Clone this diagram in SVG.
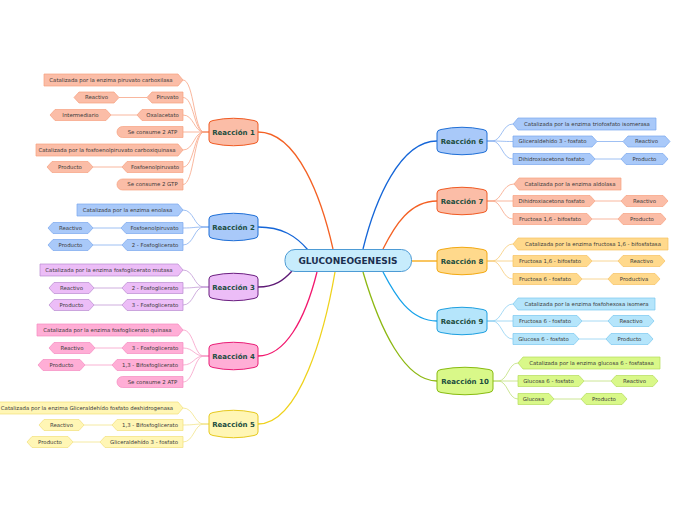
<svg xmlns="http://www.w3.org/2000/svg" xmlns:xlink="http://www.w3.org/1999/xlink" width="696" height="520" viewBox="0 0 696 520">
<style>
.t{font-family:"DejaVu Sans",Verdana,sans-serif;font-size:5.4px;fill:#3a3a3a;text-anchor:middle}
.rt{font-family:"DejaVu Sans",Verdana,sans-serif;font-size:7px;font-weight:bold;fill:#1b4d3e;text-anchor:middle}
.ct{font-family:"DejaVu Sans",Verdana,sans-serif;font-size:9px;font-weight:bold;fill:#1b2f4f;text-anchor:middle}
.ml{fill:none;stroke-width:1.3}
.ll{fill:none;stroke-width:0.8}
.sa{fill:#fbbda7;stroke:#f6a080;stroke-width:0.7}
.bl{fill:#a9c9f9;stroke:#78a6ee;stroke-width:0.7}
.pu{fill:#ecbdf7;stroke:#b98bd0;stroke-width:0.7}
.pk{fill:#ffaed6;stroke:#f58ac0;stroke-width:0.7}
.ye{fill:#fff6b5;stroke:#f2e07a;stroke-width:0.7}
.or{fill:#ffd98c;stroke:#f7c160;stroke-width:0.7}
.lb{fill:#b5e5fb;stroke:#79c7ef;stroke-width:0.7}
.gr{fill:#d9f889;stroke:#b4dc5a;stroke-width:0.7}
</style>
<defs>
<path id="n49" d="M0,-8 Q0,-11 4,-11.5 Q24.5,-16 45,-11.5 Q49,-11 49,-8 V8 Q49,11 45,11.5 Q24.5,16 4,11.5 Q0,11 0,8 Z"/>
<path id="n50" d="M0,-8 Q0,-11 4,-11.5 Q25,-16 46,-11.5 Q50,-11 50,-8 V8 Q50,11 46,11.5 Q25,16 4,11.5 Q0,11 0,8 Z"/>
<path id="n56" d="M0,-8 Q0,-11 4,-11.5 Q28,-16 52,-11.5 Q56,-11 56,-8 V8 Q56,11 52,11.5 Q28,16 4,11.5 Q0,11 0,8 Z"/>
</defs>
<rect width="696" height="520" fill="#ffffff"/>
<g id="connectors">
<path class="ml" stroke="#f46124" d="M258,132 C298,132 322,200 333,249"/>
<path class="ml" stroke="#1566d8" d="M258,227 C282,227 296,236 308,250"/>
<path class="ml" stroke="#5e1a75" d="M258,287 C275,287 284,280 292,271"/>
<path class="ml" stroke="#f2186e" d="M258,356 C285,356 305,320 317,272"/>
<path class="ml" stroke="#efd21c" d="M258,424 C300,424 325,330 335,272"/>
<path class="ml" stroke="#1566d8" d="M437,141 C400,141 375,200 363,249"/>
<path class="ml" stroke="#f46124" d="M437,201 C410,201 395,225 383,249"/>
<path class="ml" stroke="#f6a60a" d="M411,261 L437,261"/>
<path class="ml" stroke="#16a2ea" d="M437,321 C410,321 395,295 383,272"/>
<path class="ml" stroke="#8db812" d="M437,381 C405,381 380,330 363,272"/>
<g stroke="#f8a585">
<path class="ll" d="M209,132 L204,132 C194,132 194,80 183,80"/>
<path class="ll" d="M209,132 L204,132 C194,132 194,97.5 183,97.5"/>
<path class="ll" d="M209,132 L204,132 C194,132 194,115 183,115"/>
<path class="ll" d="M209,132 L183,132"/>
<path class="ll" d="M209,132 L204,132 C194,132 194,150 183,150"/>
<path class="ll" d="M209,132 L204,132 C194,132 194,167 183,167"/>
<path class="ll" d="M209,132 L204,132 C194,132 194,184.5 183,184.5"/>
<path class="ll" d="M147,97.5 L119,97.5 M137,115 L111,115 M122,167 L93,167"/>
</g>
<g stroke="#86b0f0">
<path class="ll" d="M209,227 L204,227 C194,227 194,210 183,210"/>
<path class="ll" d="M209,227 L204,227 C194,227 194,228 183,228"/>
<path class="ll" d="M209,227 L204,227 C194,227 194,245 183,245"/>
<path class="ll" d="M121,228 L93,228 M122,245 L93,245"/>
</g>
<g stroke="#c39ad6">
<path class="ll" d="M209,287 L204,287 C194,287 194,270 183,270"/>
<path class="ll" d="M209,287 L204,287 C194,287 194,288 183,288"/>
<path class="ll" d="M209,287 L204,287 C194,287 194,305 183,305"/>
<path class="ll" d="M122,288 L94,288 M122,305 L94,305"/>
</g>
<g stroke="#f7a0c8">
<path class="ll" d="M209,356 L204,356 C194,356 194,330 183,330"/>
<path class="ll" d="M209,356 L204,356 C194,356 194,348 183,348"/>
<path class="ll" d="M209,356 L204,356 C194,356 194,365 183,365"/>
<path class="ll" d="M209,356 L204,356 C194,356 194,382 183,382"/>
<path class="ll" d="M122,348 L95,348 M112,365 L85,365"/>
</g>
<g stroke="#f3e48a">
<path class="ll" d="M209,424 L204,424 C194,424 194,408 183,408"/>
<path class="ll" d="M209,424 L204,424 C194,424 194,425 183,425"/>
<path class="ll" d="M209,424 L204,424 C194,424 194,442 183,442"/>
<path class="ll" d="M112,425 L84,425 M100,442 L73,442"/>
</g>
<g stroke="#86b0f0">
<path class="ll" d="M487,141 L492,141 C502,141 502,124 513,124"/>
<path class="ll" d="M487,141 L492,141 C502,141 502,141.5 513,141.5"/>
<path class="ll" d="M487,141 L492,141 C502,141 502,159 513,159"/>
<path class="ll" d="M597,141.5 L623,141.5 M595,159 L621,159"/>
</g>
<g stroke="#f8a585">
<path class="ll" d="M487,201 L492,201 C502,201 502,184 514,184"/>
<path class="ll" d="M487,201 L513,201"/>
<path class="ll" d="M487,201 L492,201 C502,201 502,219 513,219"/>
<path class="ll" d="M595,201 L621,201 M592,219 L618,219"/>
</g>
<g stroke="#f8cb78">
<path class="ll" d="M487,261 L492,261 C502,261 502,244 513,244"/>
<path class="ll" d="M487,261 L513,261"/>
<path class="ll" d="M487,261 L492,261 C502,261 502,279 513,279"/>
<path class="ll" d="M592,261 L618,261 M582,279 L608,279"/>
</g>
<g stroke="#8fd0f2">
<path class="ll" d="M487,321 L492,321 C502,321 502,304 513,304"/>
<path class="ll" d="M487,321 L513,321"/>
<path class="ll" d="M487,321 L492,321 C502,321 502,339 513,339"/>
<path class="ll" d="M582,321 L608,321 M579,339 L606,339"/>
</g>
<g stroke="#bfe07a">
<path class="ll" d="M493,381 L498,381 C508,381 508,363 518,363"/>
<path class="ll" d="M493,381 L518,381"/>
<path class="ll" d="M493,381 L498,381 C508,381 508,399 518,399"/>
<path class="ll" d="M584,381 L611,381 M554,399 L581,399"/>
</g>
</g>

<g id="central">
<rect x="285" y="249.5" width="126.5" height="22" rx="10" fill="#c7ecfc" stroke="#4d9bd5" stroke-width="1"/>
<text class="ct" x="348" y="264">GLUCONEOGENESIS</text>
</g>

<g id="r1">
<use href="#n49" xlink:href="#n49" transform="translate(209,132)" fill="#fbbda7" stroke="#f05a22" stroke-width="1"/>
<text class="rt" x="233.5" y="134.5">Reacción 1</text>
<polygon class="sa" points="44,74 178,74 183,80 178,86 44,86"/><text class="t" x="111" y="81.9">Catalizada por la enzima piruvato carboxilasa</text>
<polygon class="sa" points="147,97.5 152,92 183,92 183,103 152,103"/><text class="t" x="167.5" y="99.4">Piruvato</text>
<polygon class="sa" points="74,97.5 79,92 114,92 119,97.5 114,103 79,103"/><text class="t" x="96.5" y="99.4">Reactivo</text>
<polygon class="sa" points="137,115 142,109.5 183,109.5 183,120.5 142,120.5"/><text class="t" x="162.5" y="116.9">Oxalacetato</text>
<polygon class="sa" points="50,115 55,109.5 106,109.5 111,115 106,120.5 55,120.5"/><text class="t" x="80.5" y="116.9">Intermediario</text>
<path class="sa" d="M183,126.5 H122.5 A5.5,5.5 0 0 0 122.5,137.5 H183 Z"/><text class="t" x="152.5" y="133.9">Se consume 2 ATP</text>
<polygon class="sa" points="36,144 178,144 183,150 178,156 36,156"/><text class="t" x="107" y="151.9">Catalizada por la fosfoenolpiruvato carboxiquinasa</text>
<polygon class="sa" points="122,167 127,161.5 183,161.5 183,172.5 127,172.5"/><text class="t" x="155" y="168.9">Fosfoenolpiruvato</text>
<polygon class="sa" points="47,167 52,161.5 88,161.5 93,167 88,172.5 52,172.5"/><text class="t" x="70" y="168.9">Producto</text>
<path class="sa" d="M183,179 H122.5 A5.5,5.5 0 0 0 122.5,190 H183 Z"/><text class="t" x="152.5" y="186.4">Se consume 2 GTP</text>
</g>

<g id="r2">
<use href="#n49" xlink:href="#n49" transform="translate(209,227)" fill="#a9c9f9" stroke="#1f6fd6" stroke-width="1"/>
<text class="rt" x="233.5" y="229.5">Reacción 2</text>
<polygon class="bl" points="77,204 178,204 183,210 178,216 77,216"/><text class="t" x="127.5" y="211.9">Catalizada por la enzima enolasa</text>
<polygon class="bl" points="121,228 126,222.5 183,222.5 183,233.5 126,233.5"/><text class="t" x="154.5" y="229.9">Fosfoenolpiruvato</text>
<polygon class="bl" points="48,228 53,222.5 88,222.5 93,228 88,233.5 53,233.5"/><text class="t" x="70.5" y="229.9">Reactivo</text>
<polygon class="bl" points="122,245 127,239.5 183,239.5 183,250.5 127,250.5"/><text class="t" x="155" y="246.9">2 - Fosfoglicerato</text>
<polygon class="bl" points="48,245 53,239.5 88,239.5 93,245 88,250.5 53,250.5"/><text class="t" x="70.5" y="246.9">Producto</text>
</g>

<g id="r3">
<use href="#n49" xlink:href="#n49" transform="translate(209,287)" fill="#ecbdf7" stroke="#6b1f80" stroke-width="1"/>
<text class="rt" x="233.5" y="289.5">Reacción 3</text>
<polygon class="pu" points="40,264 178,264 183,270 178,276 40,276"/><text class="t" x="109" y="271.9">Catalizada por la enzima fosfoglicerato mutasa</text>
<polygon class="pu" points="122,288 127,282.5 183,282.5 183,293.5 127,293.5"/><text class="t" x="155" y="289.9">2 - Fosfoglicerato</text>
<polygon class="pu" points="49,288 54,282.5 89,282.5 94,288 89,293.5 54,293.5"/><text class="t" x="71.5" y="289.9">Reactivo</text>
<polygon class="pu" points="122,305 127,299.5 183,299.5 183,310.5 127,310.5"/><text class="t" x="155" y="306.9">3 - Fosfoglicerato</text>
<polygon class="pu" points="49,305 54,299.5 89,299.5 94,305 89,310.5 54,310.5"/><text class="t" x="71.5" y="306.9">Producto</text>
</g>

<g id="r4">
<use href="#n49" xlink:href="#n49" transform="translate(209,356)" fill="#ffaed6" stroke="#e91e76" stroke-width="1"/>
<text class="rt" x="233.5" y="358.5">Reacción 4</text>
<polygon class="pk" points="37,324 178,324 183,330 178,336 37,336"/><text class="t" x="107.5" y="331.9">Catalizada por la enzima fosfoglicerato quinasa</text>
<polygon class="pk" points="122,348 127,342.5 183,342.5 183,353.5 127,353.5"/><text class="t" x="155" y="349.9">3 - Fosfoglicerato</text>
<polygon class="pk" points="49,348 54,342.5 90,342.5 95,348 90,353.5 54,353.5"/><text class="t" x="72" y="349.9">Reactivo</text>
<polygon class="pk" points="112,365 117,359.5 183,359.5 183,370.5 117,370.5"/><text class="t" x="150" y="366.9">1,3 - Bifosfoglicerato</text>
<polygon class="pk" points="38,365 43,359.5 80,359.5 85,365 80,370.5 43,370.5"/><text class="t" x="61.5" y="366.9">Producto</text>
<path class="pk" d="M183,376.5 H122.5 A5.5,5.5 0 0 0 122.5,387.5 H183 Z"/><text class="t" x="152.5" y="383.9">Se consume 2 ATP</text>
</g>

<g id="r5">
<use href="#n49" xlink:href="#n49" transform="translate(209,424)" fill="#fff6b5" stroke="#e6c91e" stroke-width="1"/>
<text class="rt" x="233.5" y="426.5">Reacción 5</text>
<polygon class="ye" points="-4,402 178,402 183,408 178,414 -4,414"/><text class="t" x="87" y="409.9">Catalizada por la enzima Gliceraldehído fosfato deshidrogenasa</text>
<polygon class="ye" points="112,425 117,419.5 183,419.5 183,430.5 117,430.5"/><text class="t" x="150" y="426.9">1,3 - Bifosfoglicerato</text>
<polygon class="ye" points="39,425 44,419.5 79,419.5 84,425 79,430.5 44,430.5"/><text class="t" x="61.5" y="426.9">Reactivo</text>
<polygon class="ye" points="100,442 105,436.5 183,436.5 183,447.5 105,447.5"/><text class="t" x="144" y="443.9">Gliceraldehído 3 - fosfato</text>
<polygon class="ye" points="27,442 32,436.5 68,436.5 73,442 68,447.5 32,447.5"/><text class="t" x="50" y="443.9">Producto</text>
</g>

<g id="r6">
<use href="#n50" xlink:href="#n50" transform="translate(437,141)" fill="#a9c9f9" stroke="#1f6fd6" stroke-width="1"/>
<text class="rt" x="462" y="143.5">Reacción 6</text>
<polygon class="bl" points="513,124 518,118 656,118 656,130 518,130"/><text class="t" x="587" y="125.9">Catalizada por la enzima triofosfato isomerasa</text>
<polygon class="bl" points="513,136 592,136 597,141.5 592,147 513,147"/><text class="t" x="552.5" y="143.4">Gliceraldehído 3 - fosfato</text>
<polygon class="bl" points="623,141.5 628,136 665,136 670,141.5 665,147 628,147"/><text class="t" x="646.5" y="143.4">Reactivo</text>
<polygon class="bl" points="513,153.5 590,153.5 595,159 590,164.5 513,164.5"/><text class="t" x="551.5" y="160.9">Dihidroxiacetona fosfato</text>
<polygon class="bl" points="621,159 626,153.5 663,153.5 668,159 663,164.5 626,164.5"/><text class="t" x="644.5" y="160.9">Producto</text>
</g>

<g id="r7">
<use href="#n50" xlink:href="#n50" transform="translate(437,201)" fill="#fbbda7" stroke="#f05a22" stroke-width="1"/>
<text class="rt" x="462" y="203.5">Reacción 7</text>
<polygon class="sa" points="514,184 519,178 621,178 621,190 519,190"/><text class="t" x="570" y="185.9">Catalizada por la enzima aldolasa</text>
<polygon class="sa" points="513,195.5 590,195.5 595,201 590,206.5 513,206.5"/><text class="t" x="551.5" y="202.9">Dihidroxiacetona fosfato</text>
<polygon class="sa" points="621,201 626,195.5 663,195.5 668,201 663,206.5 626,206.5"/><text class="t" x="644.5" y="202.9">Reactivo</text>
<polygon class="sa" points="513,213.5 587,213.5 592,219 587,224.5 513,224.5"/><text class="t" x="550" y="220.9">Fructosa 1,6 - bifosfato</text>
<polygon class="sa" points="618,219 623,213.5 661,213.5 666,219 661,224.5 623,224.5"/><text class="t" x="642" y="220.9">Producto</text>
</g>

<g id="r8">
<use href="#n50" xlink:href="#n50" transform="translate(437,261)" fill="#ffd98c" stroke="#f3a912" stroke-width="1"/>
<text class="rt" x="462" y="263.5">Reacción 8</text>
<polygon class="or" points="513,244 518,238 668,238 668,250 518,250"/><text class="t" x="593" y="245.9">Catalizada por la enzima fructosa 1,6 - bifosfatasa</text>
<polygon class="or" points="513,255.5 587,255.5 592,261 587,266.5 513,266.5"/><text class="t" x="550" y="262.9">Fructosa 1,6 - bifosfato</text>
<polygon class="or" points="618,261 623,255.5 660,255.5 665,261 660,266.5 623,266.5"/><text class="t" x="641.5" y="262.9">Reactivo</text>
<polygon class="or" points="513,273.5 577,273.5 582,279 577,284.5 513,284.5"/><text class="t" x="545" y="280.9">Fructosa 6 - fosfato</text>
<polygon class="or" points="608,279 613,273.5 655,273.5 660,279 655,284.5 613,284.5"/><text class="t" x="634" y="280.9">Productiva</text>
</g>

<g id="r9">
<use href="#n50" xlink:href="#n50" transform="translate(437,321)" fill="#b5e5fb" stroke="#1d9fe0" stroke-width="1"/>
<text class="rt" x="462" y="323.5">Reacción 9</text>
<polygon class="lb" points="513,304 518,298 655,298 655,310 518,310"/><text class="t" x="586.5" y="305.9">Catalizada por la enzima fosfohexosa isomera</text>
<polygon class="lb" points="513,315.5 577,315.5 582,321 577,326.5 513,326.5"/><text class="t" x="545" y="322.9">Fructosa 6 - fosfato</text>
<polygon class="lb" points="608,321 613,315.5 649,315.5 654,321 649,326.5 613,326.5"/><text class="t" x="631" y="322.9">Reactivo</text>
<polygon class="lb" points="513,333.5 574,333.5 579,339 574,344.5 513,344.5"/><text class="t" x="543.5" y="340.9">Glucosa 6 - fosfato</text>
<polygon class="lb" points="606,339 611,333.5 648,333.5 653,339 648,344.5 611,344.5"/><text class="t" x="629.5" y="340.9">Producto</text>
</g>

<g id="r10">
<use href="#n56" xlink:href="#n56" transform="translate(437,381)" fill="#d9f889" stroke="#88bb10" stroke-width="1"/>
<text class="rt" x="465" y="383.5">Reacción 10</text>
<polygon class="gr" points="518,363 523,357 660,357 660,369 523,369"/><text class="t" x="591.5" y="364.9">Catalizada por la enzima glucosa 6 - fosfatasa</text>
<polygon class="gr" points="518,375.5 579,375.5 584,381 579,386.5 518,386.5"/><text class="t" x="548.5" y="382.9">Glucosa 6 - fosfato</text>
<polygon class="gr" points="611,381 616,375.5 653,375.5 658,381 653,386.5 616,386.5"/><text class="t" x="634.5" y="382.9">Reactivo</text>
<polygon class="gr" points="518,393.5 549,393.5 554,399 549,404.5 518,404.5"/><text class="t" x="533.5" y="400.9">Glucosa</text>
<polygon class="gr" points="581,399 586,393.5 622,393.5 627,399 622,404.5 586,404.5"/><text class="t" x="604" y="400.9">Producto</text>
</g>
</svg>
